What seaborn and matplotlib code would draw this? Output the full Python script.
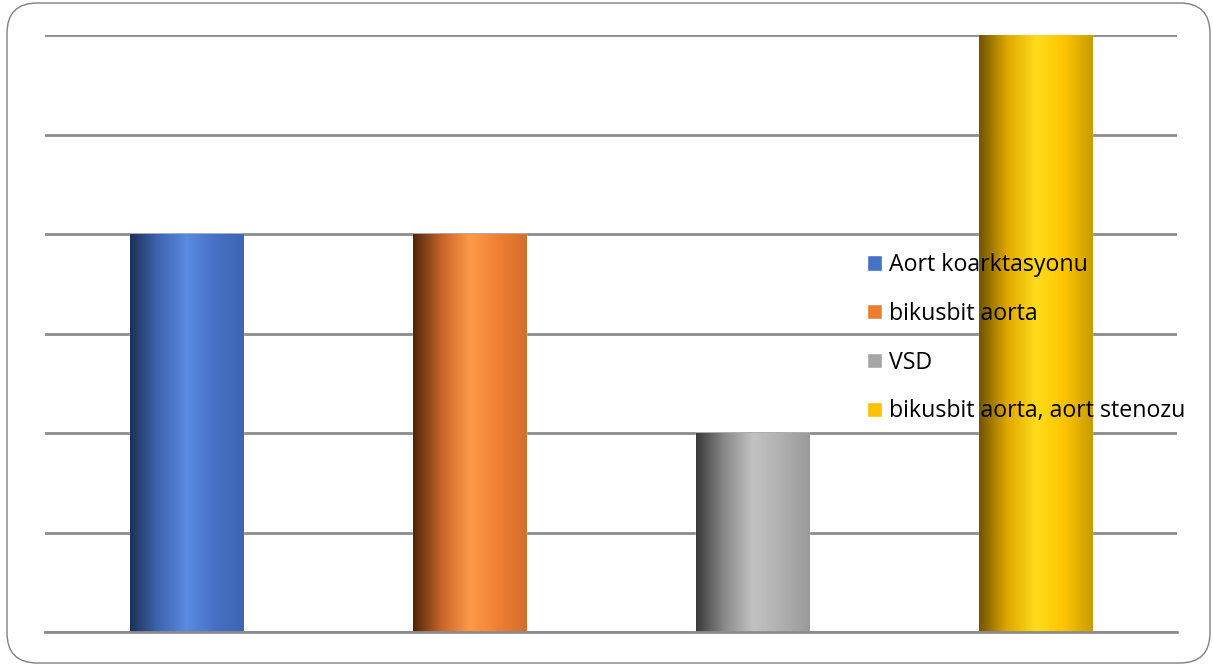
import numpy as np
import pandas as pd
import matplotlib
matplotlib.use("Agg")
import matplotlib.pyplot as plt
import seaborn as sns
from matplotlib.colors import LinearSegmentedColormap
from matplotlib.patches import FancyBboxPatch

# Data
categories = ["Aort koarktasyonu", "bikusbit aorta", "VSD", "bikusbit aorta, aort stenozu"]
counts = [4, 4, 2, 6]
base_colors = ["#4472C4", "#ED7D31", "#A5A5A5", "#FFC000"]
# left shade, highlight, right shade for the cylinder-like look
gradients = [
    ["#1c3157", "#3f66b0", "#5b8ae2", "#4571c4", "#3d66b5"],
    ["#4f260a", "#c8642a", "#ff9a48", "#f07f33", "#d56e28"],
    ["#3a3a3a", "#8a8a8a", "#c2c2c2", "#b0b0b0", "#999999"],
    ["#705400", "#e0a800", "#ffdc1c", "#ffc400", "#c79c00"],
]

df = pd.DataFrame({"category": categories, "count": counts})

sns.set_style("white")
plt.rcParams["font.family"] = ["Open Sans", "DejaVu Sans"]

fig = plt.figure(figsize=(12.13, 6.66), dpi=100)
ax = fig.add_axes([45 / 1213, 1 - 632 / 666, 1132 / 1213, 597 / 666])

sns.barplot(data=df, x="category", y="count", hue="category",
            palette=base_colors, width=0.4, ax=ax, legend=True, saturation=1)

ax.set_ylim(0, 6)
ax.set_xlim(-0.5, 3.5)
ax.set_yticks(range(0, 7))
ax.yaxis.grid(True, color="#8c8c8c", linewidth=2)
ax.set_axisbelow(True)
ax.set_xlabel("")
ax.set_ylabel("")
ax.set_xticklabels([])
ax.set_yticklabels([])
ax.tick_params(length=0)
for side in ["left", "right", "top"]:
    ax.spines[side].set_visible(False)
ax.spines["bottom"].set_color("#8c8c8c")
ax.spines["bottom"].set_linewidth(2)

# gradient fill clipped to each bar
bars = [p for p in ax.patches if p.get_height() > 0]
bars = sorted(bars, key=lambda p: p.get_x())
for bar, cols in zip(bars, gradients):
    cmap = LinearSegmentedColormap.from_list("g", cols)
    x0, w, h = bar.get_x(), bar.get_width(), bar.get_height()
    grad = np.linspace(0, 1, 256).reshape(1, -1)
    im = ax.imshow(grad, cmap=cmap, aspect="auto", extent=(x0, x0 + w, 0, h),
                   zorder=bar.get_zorder() + 0.1, interpolation="bicubic")
    im.set_clip_path(bar)
ax.set_xlim(-0.5, 3.5)
ax.set_ylim(0, 6)

handles, labels = ax.get_legend_handles_labels()
leg = ax.legend(handles, labels, loc="upper left", bbox_to_anchor=(867 / 1213, 1 - 253 / 666),
                bbox_transform=fig.transFigure, frameon=False, fontsize=16.7,
                labelcolor="black",
                handlelength=0.65, handleheight=0.65, handletextpad=0.3,
                labelspacing=1.07, borderpad=0, borderaxespad=0)
leg.set_zorder(10)

# rounded frame around the chart
frame = FancyBboxPatch((7 / 1213, 3 / 666), 1203 / 1213, 660 / 666,
                       boxstyle="round,pad=0,rounding_size=0.025",
                       transform=fig.transFigure, facecolor="none",
                       edgecolor="#808080", linewidth=1, mutation_aspect=1213 / 666)
fig.patches.append(frame)

fig.savefig("out.png", dpi=100)
